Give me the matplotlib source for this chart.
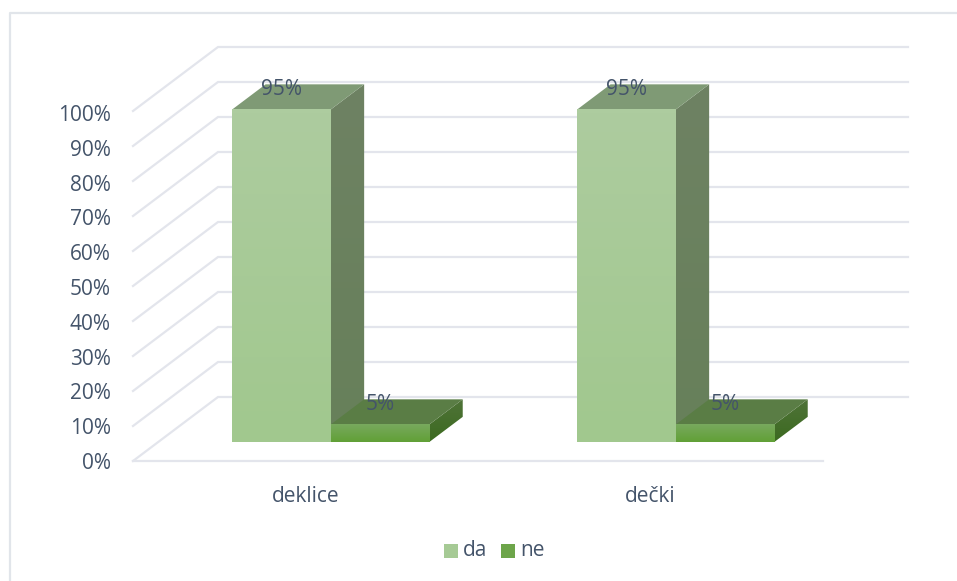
import numpy as np
import matplotlib
matplotlib.use("Agg")
import matplotlib.pyplot as plt
from matplotlib.patches import Polygon, Rectangle
from matplotlib.colors import LinearSegmentedColormap

categories = ["deklice", "dečki"]
series_names = ["da", "ne"]
da_values = [95, 95]
ne_values = [5, 5]
y_ticks = list(range(0, 101, 10))
tick_labels = [f"{v}%" for v in y_ticks]

W, H = 957, 581
TEXT = "#44546A"
GRID = "#E3E5EC"
plt.rcParams["font.family"] = ["Open Sans", "DejaVu Sans"]
FS = 15

fig = plt.figure(figsize=(W / 100, H / 100), dpi=100)
fig.patch.set_facecolor("white")

# Front plane of the plot box, in pixels
L, R, B, T = 133, 823, 461, 111
ax = fig.add_axes([L / W, 1 - B / H, (R - L) / W, (B - T) / H])
ax.set_xlim(-0.5, 1.5)
ax.set_ylim(0, 100)
ax.axis("off")

# Depth of the 3D box in data units
DX = 85 / (R - L) * 2
DY = 64 / (B - T) * 100


def proj(x, y, d):
    return (x + d * DX, y + d * DY)


def gradient_poly(pts, c_top, c_bottom, zorder):
    pts = np.array(pts)
    cmap = LinearSegmentedColormap.from_list("g", [c_bottom, c_top])
    grad = np.linspace(0, 1, 64).reshape(-1, 1)
    im = ax.imshow(grad, cmap=cmap, origin="lower", aspect="auto", zorder=zorder,
                   extent=(pts[:, 0].min(), pts[:, 0].max(), pts[:, 1].min(), pts[:, 1].max()),
                   interpolation="bilinear")
    poly = Polygon(pts, closed=True, transform=ax.transData, facecolor="none", edgecolor="none",
                   clip_on=False)
    ax.add_patch(poly)
    im.set_clip_box(fig.bbox)
    im.set_clip_path(poly)


# Gridlines: front-left diagonal then along the back wall
for v in y_ticks:
    xs, ys = zip(proj(-0.5, v, 0), proj(-0.5, v, 1), proj(1.5, v, 1))
    ax.plot(xs, ys, color=GRID, lw=1.6, zorder=1, clip_on=False, solid_joinstyle="miter")
ax.plot([-0.5, 1.5], [0, 0], color=GRID, lw=1.6, zorder=1, clip_on=False)

# Bars
BAR_W = 2 / 7
D0, D1 = 0.30, 0.69


def bar3d(x0, x1, v, front, side, top, z):
    b = 0
    p = proj
    gradient_poly([p(x1, b, D0), p(x1, v, D0), p(x1, v, D1), p(x1, b, D1)], side[0], side[1], z)
    ax.add_patch(Polygon([p(x0, v, D0), p(x1, v, D0), p(x1, v, D1), p(x0, v, D1)],
                         closed=True, facecolor=top, edgecolor="none", zorder=z + 0.1,
                         clip_on=False))
    gradient_poly([p(x0, b, D0), p(x1, b, D0), p(x1, v, D0), p(x0, v, D0)], front[0], front[1], z + 0.2)


DA = dict(front=("#ADCC9F", "#A1C88E"), side=("#6E8263", "#67805A"), top="#7F9A75")
NE = dict(front=("#78A95E", "#61A036"), side=("#4F7338", "#3C6A20"), top="#5A7D45")

for i, (a, n) in enumerate(zip(da_values, ne_values)):
    bar3d(i - BAR_W, i, a, z=3, **DA)
    bar3d(i, i + BAR_W, n, z=4, **NE)
    for x, v in ((i - BAR_W / 2, a), (i + BAR_W / 2, n)):
        ax.annotate(f"{v}%", proj(x, v, D0), xytext=(0, 19.5), textcoords="offset pixels",
                    ha="center", va="center", color=TEXT, fontsize=FS, zorder=6,
                    annotation_clip=False)

# Tick labels
for v, lab in zip(y_ticks, tick_labels):
    ax.annotate(lab, (-0.5, v), xytext=(-22, 0 - 0.02 * v), textcoords="offset pixels",
                ha="right", va="center_baseline", color=TEXT, fontsize=FS, annotation_clip=False)
for i, c in enumerate(categories):
    ax.annotate(c, (i, 0), xytext=(0, -35.5), textcoords="offset pixels", ha="center", va="center",
                color=TEXT, fontsize=FS, annotation_clip=False)


# Legend
def px_rect(x, y, w, h, col):
    fig.patches.append(Rectangle((x / W, 1 - (y + h) / H), w / W, h / H, transform=fig.transFigure,
                                 facecolor=col, edgecolor="none"))


px_rect(444, 544, 14, 14, "#A6CA95")
px_rect(501, 544, 14, 14, "#6DA54A")
fig.text(463 / W, 1 - 551 / H, series_names[0], color=TEXT, fontsize=FS, va="center", ha="left")
fig.text(520 / W, 1 - 551 / H, series_names[1], color=TEXT, fontsize=FS, va="center", ha="left")

# Chart border: top and left edges only
fig.add_artist(plt.Line2D([10 / W, 10 / W, 1], [0.002, 1 - 13 / H, 1 - 13 / H],
                          color="#E1E5EA", lw=1.6, transform=fig.transFigure))

fig.savefig("out.png", dpi=100)
